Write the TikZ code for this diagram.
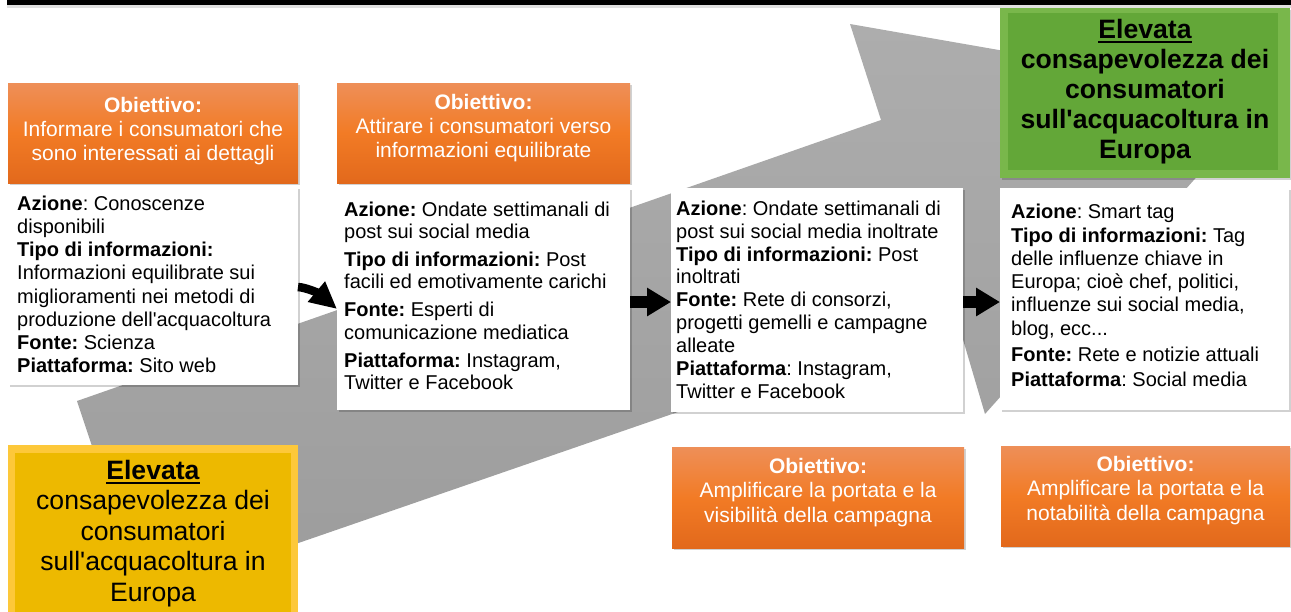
\documentclass[tikz,border=0pt]{standalone}
\usepackage{fontspec}
\setmainfont{Liberation Sans}
\newfontfamily\plainsans{Liberation Sans}
\usetikzlibrary{arrows.meta,shadows}
\frenchspacing
\definecolor{org1}{HTML}{EE8F58}
\definecolor{org2}{HTML}{F27B25}
\definecolor{org3}{HTML}{E2691C}
\definecolor{grn1}{HTML}{79B74B}
\definecolor{grn2}{HTML}{63A738}
\definecolor{yel1}{HTML}{FDC83A}
\definecolor{yel2}{HTML}{EDB900}
\definecolor{arrtop}{HTML}{ADADAD}
\definecolor{arrbot}{HTML}{9C9C9C}
\newcommand\myul[1]{\leavevmode\setbox0\hbox{#1}\rlap{\rule[-5pt]{\wd0}{2pt}}\box0}
\newcommand\ap{{\plainsans\symbol{39}}}
\tikzset{
  shad/.style={drop shadow={shadow xshift=1.5pt,shadow yshift=-2pt,opacity=0.18,fill=black}},
  wbox/.style={shad,fill=white,inner sep=0pt,outer sep=0pt,anchor=north west},
  obox/.style={shad,inner sep=0pt,outer sep=0pt,anchor=north west,top color=org1,bottom color=org3,middle color=org2},
  wtext/.style={anchor=north west,inner sep=0pt,align=left,font=\fontsize{20}{23.2}\selectfont\frenchspacing},
  otext/.style={anchor=north,inner sep=0pt,align=center,text=white,font=\fontsize{21}{24}\selectfont\frenchspacing},
  btext/.style={anchor=north,inner sep=0pt,align=center,font=\fontsize{26.6}{30.3}\selectfont},
  blk/.style={line width=12pt,-{Triangle[length=24pt,width=27pt]}},
  blkc/.style={line width=8.5pt,-{Triangle[length=27pt,width=25pt]}},
}
\begin{document}
\begin{tikzpicture}[x=1pt,y=-1pt]
\useasboundingbox (0,0) rectangle (1291,611);
% top bar
\fill[black!12] (7,5) rectangle (1291,8);
\fill[black] (7,0) rectangle (1291,5);
% big gray arrow
\shade[top color=arrtop,bottom color=arrbot] (77,401) -- (881,120) -- (850,24) -- (1268,97) -- (985,414) -- (956,316) -- (142,597) -- cycle;
% white boxes
\node[wbox,minimum width=290pt,minimum height=198pt] (w1) at (8,187) {};
\node[wbox,minimum width=293pt,minimum height=222pt] (w2) at (337,188) {};
\node[wbox,minimum width=292pt,minimum height=224pt] (w3) at (671,188) {};
\node[wbox,minimum width=289pt,minimum height=222pt] (w4) at (1000,188) {};
% orange boxes
\node[obox,minimum width=290pt,minimum height=100pt] (o1) at (8,83) {};
\node[obox,minimum width=293pt,minimum height=100pt] (o2) at (337,83) {};
\node[obox,minimum width=292pt,minimum height=101pt] (o5) at (672,447) {};
\node[obox,minimum width=289pt,minimum height=100pt] (o6) at (1001,446) {};
% green box
\node[shad,fill=grn1,anchor=north west,inner sep=0pt,minimum width=290pt,minimum height=170pt] (g) at (1000,8) {};
\fill[grn2] (1008,13) rectangle (1278,170);
% yellow box
\node[fill=yel1,anchor=north west,inner sep=0pt,minimum width=290pt,minimum height=175pt] (y) at (8,445) {};
\fill[yel2] (15,453) rectangle (291,620);
% texts in white boxes
\node[wtext] (t1) at (17,194) {\rule{0pt}{16pt}\textbf{Azione}: Conoscenze\\ disponibili\\ \textbf{Tipo di informazioni:}\\ Informazioni equilibrate sui\\ miglioramenti nei metodi di\\ produzione dell\ap acquacoltura\\ \textbf{Fonte:} Scienza\\ \textbf{Piattaforma:} Sito web};
\node[wtext,font=\fontsize{20}{22.3}\selectfont\frenchspacing] (t2) at (344,200) {\rule{0pt}{16pt}\textbf{Azione:} Ondate settimanali di\\ post sui social media\\[5.7pt] \textbf{Tipo di informazioni:} Post\\ facili ed emotivamente carichi\\[5.7pt] \textbf{Fonte:} Esperti di\\ comunicazione mediatica\\[5.7pt] \textbf{Piattaforma:} Instagram,\\ Twitter e Facebook};
\node[wtext,font=\fontsize{20}{22.9}\selectfont\frenchspacing] (t3) at (676,199) {\rule{0pt}{16pt}\textbf{Azione}: Ondate settimanali di\\ post sui social media inoltrate\\ \textbf{Tipo di informazioni:} Post\\ inoltrati\\ \textbf{Fonte:} Rete di consorzi,\\ progetti gemelli e campagne\\ alleate\\ \textbf{Piattaforma}: Instagram,\\ Twitter e Facebook};
\node[wtext,font=\fontsize{20}{23.3}\selectfont\frenchspacing] (t4) at (1011,202.5) {\rule{0pt}{16pt}\textbf{Azione}: Smart tag\\ \textbf{Tipo di informazioni:} Tag\\ delle influenze chiave in\\ Europa; cioè chef, politici,\\ influenze sui social media,\\ blog, ecc...\\[3pt] \textbf{Fonte:} Rete e notizie attuali\\[2pt] \textbf{Piattaforma}: Social media};
% texts in orange boxes
\node[otext] (to1) at (153,95) {\rule{0pt}{17pt}\textbf{Obiettivo:}\\ Informare i consumatori che\\ sono interessati ai dettagli};
\node[otext] (to2) at (483.5,92) {\rule{0pt}{17pt}\textbf{Obiettivo:}\\ Attirare i consumatori verso\\ informazioni equilibrate};
\node[otext,font=\fontsize{21}{24.5}\selectfont] (to5) at (818,456) {\rule{0pt}{17pt}\textbf{Obiettivo:}\\ Amplificare la portata e la\\ visibilità della campagna};
\node[otext,font=\fontsize{21}{24.5}\selectfont] (to6) at (1145.5,454) {\rule{0pt}{17pt}\textbf{Obiettivo:}\\ Amplificare la portata e la\\ notabilità della campagna};
% green and yellow texts
\node[btext,font=\fontsize{26.6}{30}\selectfont\bfseries] (tg) at (1145,18) {\rule{0pt}{20pt}\myul{Elevata}\\ consapevolezza dei\\ consumatori\\ sull\ap acquacoltura in\\ Europa};
\node[btext,font=\fontsize{26.6}{30.5}\selectfont] (ty) at (153,459) {\rule{0pt}{20pt}\myul{\textbf{Elevata}}\\ consapevolezza dei\\ consumatori\\ sull\ap acquacoltura in\\ Europa};
% black arrows
\draw[blkc] ([yshift=-1pt]w1.east) .. controls +(8,0.5) and +(-19,-16) .. ([yshift=-10pt]w2.west);
\draw[blk] ([yshift=-3pt]w2.east) -- ([yshift=-2pt]w3.west);
\draw[blk] ([yshift=-2pt]w3.east) -- ([yshift=-3pt]w4.west);
\end{tikzpicture}
\end{document}
